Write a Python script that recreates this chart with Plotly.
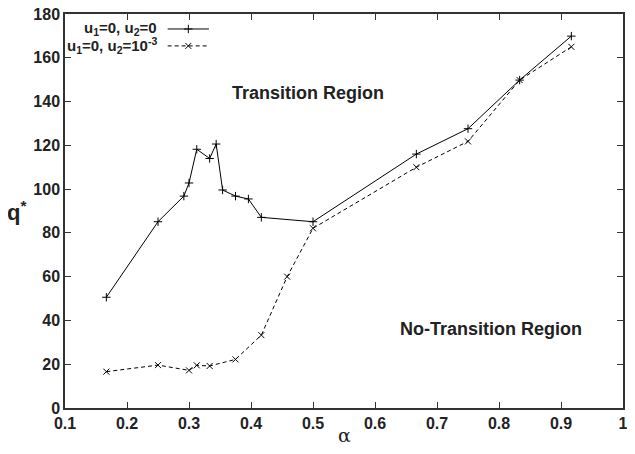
import plotly.graph_objects as go

# Series 1: u1=0, u2=0
alpha_1 = [0.1667, 0.25, 0.2917, 0.30, 0.3125, 0.3333, 0.3438, 0.3542, 0.375, 0.3958, 0.4167, 0.50, 0.6667, 0.75, 0.8333, 0.9167]
q_1 = [50.6, 85.1, 96.8, 102.8, 118.2, 114.0, 120.6, 99.6, 96.8, 95.5, 87.1, 85.1, 116.0, 127.6, 149.8, 169.9]

# Series 2: u1=0, u2=1e-3
alpha_2 = [0.1667, 0.25, 0.30, 0.3125, 0.3333, 0.375, 0.4167, 0.4583, 0.50, 0.6667, 0.75, 0.8333, 0.9167]
q_2 = [16.6, 19.6, 17.2, 19.5, 19.2, 22.2, 33.3, 60.0, 82.1, 110.0, 121.8, 149.8, 165.0]

x_ticks = [0.1, 0.2, 0.3, 0.4, 0.5, 0.6, 0.7, 0.8, 0.9, 1.0]
x_tick_labels = ["0.1", "0.2", "0.3", "0.4", "0.5", "0.6", "0.7", "0.8", "0.9", "1"]
y_ticks = [0, 20, 40, 60, 80, 100, 120, 140, 160, 180]
y_tick_labels = [str(v) for v in y_ticks]

series_names = ["u<sub>1</sub>=0, u<sub>2</sub>=0", "u<sub>1</sub>=0, u<sub>2</sub>=10<sup>-3</sup>"]

FONT = "Liberation Sans, Arial, Helvetica, sans-serif"
AX = "#333333"
TXT = "#222222"
X_RANGE = [0.1, 1.0]
Y_RANGE = [0, 180]

fig = go.Figure()
fig.add_trace(go.Scatter(
    x=alpha_1, y=q_1, mode="lines+markers", name=series_names[0],
    line=dict(color="black", width=1),
    marker=dict(symbol="cross-thin", size=6, color="black", line=dict(width=1, color="black")),
    showlegend=False))
fig.add_trace(go.Scatter(
    x=alpha_2, y=q_2, mode="lines+markers", name=series_names[1],
    line=dict(color="black", width=1, dash="4px,3px"),
    marker=dict(symbol="x-thin", size=6, color="black", line=dict(width=1, color="black")),
    showlegend=False))

# Manual legend (gnuplot style: text on the left, sample on the right), placed in axes-fraction units
def ax_x(f):
    return X_RANGE[0] + f * (X_RANGE[1] - X_RANGE[0])

def ax_y(f):
    return Y_RANGE[0] + f * (Y_RANGE[1] - Y_RANGE[0])

leg_rows = [0.962, 0.919]          # axes fraction (from bottom)
leg_sample = [0.184, 0.221, 0.258]  # axes fraction (from left)
leg_text_right = 0.168
leg_styles = [
    dict(line=dict(color="black", width=1), marker=dict(symbol="cross-thin", size=6, line=dict(width=1, color="black"))),
    dict(line=dict(color="black", width=1, dash="4px,3px"), marker=dict(symbol="x-thin", size=6, line=dict(width=1, color="black"))),
]
for row, st, name in zip(leg_rows, leg_styles, series_names):
    fig.add_trace(go.Scatter(x=[ax_x(f) for f in leg_sample], y=[ax_y(row)] * 3, mode="lines",
                             line=st["line"], showlegend=False, hoverinfo="skip"))
    fig.add_trace(go.Scatter(x=[ax_x(leg_sample[1])], y=[ax_y(row)], mode="markers",
                             marker=dict(color="black", **st["marker"]), showlegend=False, hoverinfo="skip"))
    fig.add_annotation(x=leg_text_right, y=row, xref="paper", yref="paper", text=name, showarrow=False,
                       xanchor="right", yanchor="middle",
                       font=dict(family=FONT, size=15, color=TXT, weight="bold"))

fig.add_annotation(x=0.492, y=144, text="Transition Region", showarrow=False,
                   font=dict(family=FONT, size=18, color=TXT, weight="bold"))
fig.add_annotation(x=0.7865, y=36, text="No-Transition Region", showarrow=False,
                   font=dict(family=FONT, size=18, color=TXT, weight="bold"))

PLOT_H = 394  # plot height in px (used to place the outer labels in paper units)
PLOT_W = 558

# y-axis label q*
fig.add_annotation(x=(17 - 65) / PLOT_W, y=(408 - 211) / PLOT_H, xref="paper", yref="paper",
                   text="q<sup>*</sup>", showarrow=False, xanchor="center", yanchor="middle",
                   font=dict(family=FONT, size=22, color=TXT, weight="bold"))
# x-axis label alpha
fig.add_annotation(x=0.5, y=(408 - 435) / PLOT_H, xref="paper", yref="paper",
                   text="α", showarrow=False, xanchor="center", yanchor="middle",
                   font=dict(family="DejaVu Serif, Liberation Serif, serif", size=19, color=TXT))

axis_common = dict(showgrid=False, zeroline=False, showline=True, linecolor=AX, linewidth=1.5,
                   mirror="ticks", ticks="inside", ticklen=6, tickwidth=1, tickcolor=AX,
                   ticklabeloverflow="allow", automargin=False,
                   tickfont=dict(family=FONT, size=16, color=TXT, weight="bold"))

# The page body has an 8px default margin; the figure is sized so that it is fully visible
# in the 635x454 window without scrollbars.
fig.update_layout(
    width=619, height=438,
    margin=dict(l=57, r=4, t=6, b=38, autoexpand=False),
    paper_bgcolor="white", plot_bgcolor="white",
    xaxis=dict(range=X_RANGE, tickvals=x_ticks, ticktext=x_tick_labels, **axis_common),
    yaxis=dict(range=Y_RANGE, tickvals=y_ticks, ticktext=y_tick_labels, **axis_common),
    showlegend=False,
)

fig.write_html("out.html")
